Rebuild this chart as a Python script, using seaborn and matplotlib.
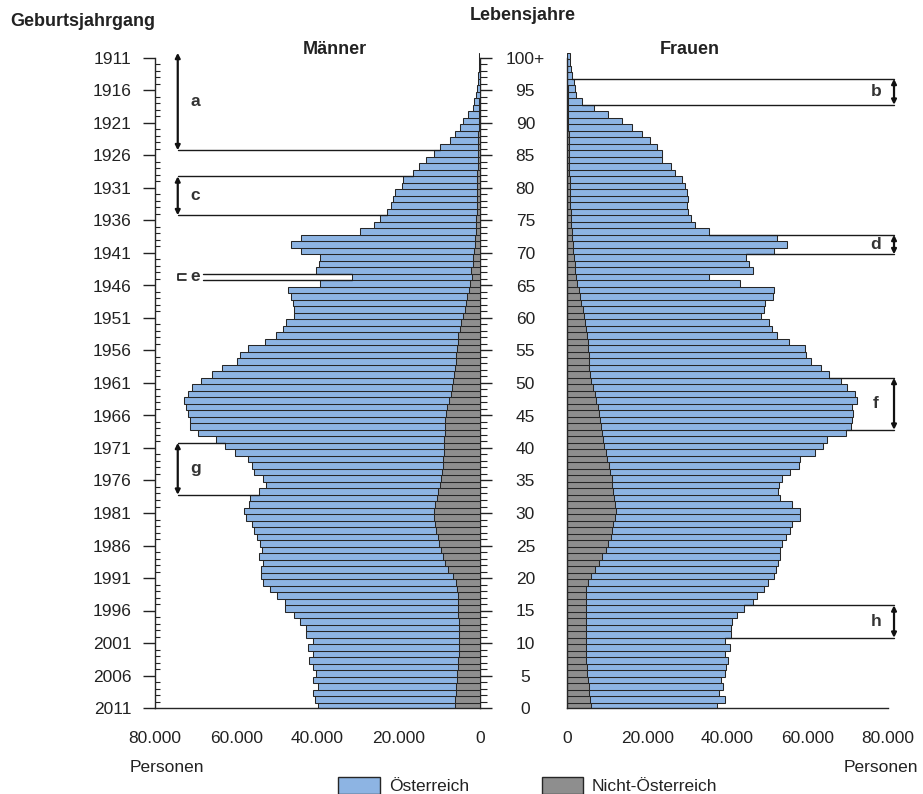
import matplotlib
matplotlib.use("Agg")
import matplotlib.pyplot as plt
import seaborn as sns
import numpy as np
import pandas as pd
from matplotlib.patches import Patch

# Bevoelkerung 2011 nach Alter (0..100+), Werte in 1000 Personen
alter = list(range(101))

maenner_gesamt = [
    39.9, 40.7, 41.0, 39.9, 41.2, 40.3, 41.0, 42.0, 41.2, 42.4,
    41.2, 42.8, 42.8, 44.4, 45.9, 47.9, 48.1, 50.0, 51.6, 53.5,
    54.0, 54.0, 53.5, 54.5, 53.7, 54.2, 55.0, 55.6, 56.0, 57.6,
    58.0, 56.8, 56.6, 54.3, 52.8, 53.5, 55.6, 56.1, 57.0, 60.2,
    62.7, 64.9, 69.3, 71.4, 71.4, 71.8, 72.4, 72.8, 72.0, 70.8,
    68.7, 66.0, 63.4, 59.9, 59.1, 57.1, 53.0, 50.2, 48.4, 47.7,
    45.7, 45.9, 46.1, 46.5, 47.3, 39.5, 31.4, 40.3, 39.7, 39.5,
    44.0, 46.5, 44.0, 29.6, 26.2, 24.7, 22.9, 21.8, 21.4, 21.0,
    19.3, 18.9, 16.5, 15.0, 13.2, 11.3, 9.9, 7.4, 6.2, 4.9,
    4.1, 2.9, 1.8, 1.5, 1.0, 0.8, 0.6, 0.4, 0.3, 0.2,
    0.2,
]
maenner_nicht_at = [
    6.2, 6.1, 5.9, 5.8, 5.7, 5.6, 5.4, 5.3, 5.2, 5.1,
    5.1, 5.1, 5.2, 5.2, 5.3, 5.3, 5.4, 5.5, 5.6, 5.8,
    6.7, 7.8, 8.5, 9.2, 9.7, 10.0, 10.3, 10.8, 11.1, 11.3,
    11.4, 11.1, 10.7, 10.3, 9.9, 9.5, 9.3, 9.1, 9.0, 8.9,
    8.9, 8.8, 8.7, 8.6, 8.5, 8.4, 8.0, 7.6, 7.2, 6.9,
    6.7, 6.4, 6.2, 6.0, 5.8, 5.6, 5.5, 5.3, 5.0, 4.6,
    4.1, 3.8, 3.5, 3.2, 2.8, 2.5, 2.0, 2.1, 1.8, 1.6,
    1.4, 1.3, 1.2, 1.0, 1.0, 0.9, 0.8, 0.8, 0.8, 0.8,
    0.8, 0.7, 0.7, 0.6, 0.6, 0.5, 0.5, 0.4, 0.4, 0.3,
    0.3, 0.2, 0.2, 0.2, 0.1, 0.1, 0.1, 0.1, 0.1, 0.1,
    0.1,
]
frauen_gesamt = [
    37.5, 39.4, 37.9, 38.9, 38.3, 39.5, 39.7, 40.2, 39.4, 40.5,
    39.4, 40.8, 40.8, 41.0, 42.4, 44.1, 46.3, 47.4, 49.1, 50.2,
    51.6, 52.0, 52.7, 53.0, 53.0, 53.7, 54.5, 55.5, 56.0, 58.0,
    58.0, 56.0, 53.2, 52.7, 52.8, 53.5, 55.7, 57.8, 58.0, 61.7,
    63.8, 64.9, 69.6, 70.7, 71.1, 71.3, 71.1, 72.3, 71.9, 69.8,
    68.4, 65.3, 63.4, 60.9, 59.6, 59.3, 55.3, 52.4, 51.0, 50.3,
    48.3, 49.0, 49.3, 51.3, 51.6, 43.0, 35.5, 46.3, 45.3, 44.5,
    51.6, 54.9, 52.4, 35.5, 31.9, 30.8, 30.2, 30.0, 30.1, 30.0,
    29.4, 28.7, 27.0, 25.8, 23.8, 23.6, 22.5, 20.6, 18.6, 16.1,
    13.6, 10.3, 6.7, 3.8, 2.3, 2.0, 1.8, 1.3, 1.0, 0.8,
    0.7,
]
frauen_nicht_at = [
    5.9, 5.7, 5.6, 5.4, 5.2, 5.1, 4.9, 4.8, 4.7, 4.7,
    4.7, 4.7, 4.7, 4.7, 4.7, 4.7, 4.7, 4.7, 4.7, 5.2,
    5.9, 7.0, 8.0, 8.8, 9.6, 10.2, 10.9, 11.2, 11.5, 11.9,
    12.1, 12.0, 11.7, 11.4, 11.2, 11.1, 10.8, 10.5, 10.0, 9.6,
    9.2, 9.0, 8.8, 8.5, 8.3, 8.0, 7.7, 7.3, 7.0, 6.5,
    5.9, 5.7, 5.6, 5.5, 5.4, 5.3, 5.2, 5.0, 4.8, 4.5,
    4.2, 3.9, 3.6, 3.2, 2.9, 2.6, 2.3, 2.1, 1.9, 1.7,
    1.5, 1.4, 1.3, 1.2, 1.0, 0.9, 0.9, 0.8, 0.8, 0.8,
    0.7, 0.7, 0.6, 0.6, 0.5, 0.5, 0.5, 0.4, 0.4, 0.3,
    0.3, 0.3, 0.2, 0.2, 0.2, 0.2, 0.1, 0.1, 0.1, 0.1,
    0.1,
]

alter_labels = ["0", "5", "10", "15", "20", "25", "30", "35", "40", "45", "50",
                "55", "60", "65", "70", "75", "80", "85", "90", "95", "100+"]
geburtsjahre = ["2011", "2006", "2001", "1996", "1991", "1986", "1981", "1976",
                "1971", "1966", "1961", "1956", "1951", "1946", "1941", "1936",
                "1931", "1926", "1921", "1916", "1911"]
personen_ticks = [0, 20000, 40000, 60000, 80000]
personen_labels = ["0", "20.000", "40.000", "60.000", "80.000"]

# Markierte Jahrgaenge: (Buchstabe, Seite, juengstes Alter, aeltestes Alter)
markierungen = [
    ("a", "m", 86, 100),
    ("c", "m", 76, 81),
    ("g", "m", 33, 40),
    ("b", "w", 93, 96),
    ("d", "w", 70, 72),
    ("f", "w", 43, 50),
    ("h", "w", 11, 15),
]

BLUE = "#8DB4E3"
GRAY = "#8E8E8E"
EDGE = "#262626"
TXT = "#222222"

sns.set_style("white")
plt.rcParams["font.family"] = ["Liberation Sans", "DejaVu Sans"]
plt.rcParams["text.color"] = TXT
plt.rcParams["xtick.color"] = TXT
plt.rcParams["ytick.color"] = TXT

df_m = pd.DataFrame({"alter": alter,
                     "gesamt": np.array(maenner_gesamt) * 1000,
                     "nicht": np.array(maenner_nicht_at) * 1000})
df_w = pd.DataFrame({"alter": alter,
                     "gesamt": np.array(frauen_gesamt) * 1000,
                     "nicht": np.array(frauen_nicht_at) * 1000})

W, H = 923, 794
fig = plt.figure(figsize=(W / 100, H / 100), dpi=100)
bottom = 86 / H
height = 6.5 * 100.8 / H
ax_m = fig.add_axes([155 / W, bottom, 325 / W, height])
ax_w = fig.add_axes([567 / W, bottom, 321 / W, height])

for ax, df in ((ax_m, df_m), (ax_w, df_w)):
    sns.barplot(data=df, x="gesamt", y="alter", orient="y", native_scale=True,
                width=1, color=BLUE, saturation=1, edgecolor=EDGE,
                linewidth=0.75, errorbar=None, ax=ax)
    sns.barplot(data=df, x="nicht", y="alter", orient="y", native_scale=True,
                width=1, color=GRAY, saturation=1, edgecolor=EDGE,
                linewidth=0.75, errorbar=None, ax=ax)
    ax.set_ylim(-0.3, 100.5)
    ax.set_xlabel("")
    ax.set_ylabel("")
    ax.spines["top"].set_visible(False)
    for s in ax.spines.values():
        s.set_linewidth(1.0)
        s.set_color(EDGE)
    ax.set_xticks(personen_ticks, labels=personen_labels)
    ax.set_xticks(np.arange(0, 80001, 4000), minor=True)
    ax.tick_params(axis="x", which="major", length=9.5, width=1, pad=7, labelsize=12.5)
    ax.tick_params(axis="x", which="minor", length=5, width=0.8)

ypos_major = np.arange(0, 101, 5) - 0.3
ypos_minor = np.arange(0, 101) - 0.3

# Maenner: Geburtsjahrgang links, Alter-Skala rechts
ax_m.set_xlim(80000, 0)
ax_m.spines["right"].set_visible(False)
ax_m.spines["left"].set_bounds(-0.3, 99.7)
ax_m.set_yticks(ypos_major, labels=geburtsjahre)
ax_m.set_yticks(ypos_minor, minor=True)
ax_m.tick_params(axis="y", which="major", left=True, right=False, direction="out",
                 length=9, width=1, pad=8, labelsize=12.5)
ax_m.tick_params(axis="y", which="minor", left=True, right=False, direction="in",
                 length=3.5, width=0.8)

sec = ax_m.secondary_yaxis("right")
sec.set_yticks(ypos_major)
sec.set_yticks(ypos_minor, minor=True)
sec.tick_params(which="major", direction="out", length=8.5, width=1, labelright=False)
sec.tick_params(which="minor", direction="out", length=5, width=0.8)
sec.spines["right"].set_bounds(-0.3, 99.7)
sec.spines["right"].set_linewidth(1.0)
sec.spines["right"].set_color(EDGE)

# Frauen: Lebensjahre in der Mitte
ax_w.set_xlim(0, 80000)
ax_w.spines["right"].set_visible(False)
ax_w.spines["left"].set_bounds(-0.3, 99.7)
ax_w.set_yticks(ypos_major, labels=alter_labels)
ax_w.set_yticks(ypos_minor, minor=True)
ax_w.tick_params(axis="y", which="major", direction="out", length=10, width=1,
                 pad=20, labelsize=12.5)
ax_w.tick_params(axis="y", which="minor", direction="out", length=5, width=0.8)
for lab in ax_w.get_yticklabels():
    lab.set_horizontalalignment("center")


def line_end(values, k):
    # Grenze zwischen Alter k und k+1 endet am kuerzeren Balken
    lo = values[k] if 0 <= k <= 100 else 0
    hi = values[k + 1] if 0 <= k + 1 <= 100 else 0
    return min(lo, hi) * 1000


arrow_kw = dict(arrowstyle="<|-|>", lw=1.6, color="#111111", shrinkA=0, shrinkB=0,
                mutation_scale=7)

for buchst, seite, lo, hi in markierungen:
    if seite == "m":
        ax, werte, xv, xt = ax_m, maenner_gesamt, 74400, 70000
    else:
        ax, werte, xv, xt = ax_w, frauen_gesamt, 81500, 77000
    grenzen = [lo - 0.5, hi + 0.5] if hi < 100 else [lo - 0.5]
    for yb in grenzen:
        k = int(np.floor(yb))
        ax.plot([xv, line_end(werte, k)], [yb, yb], color="#1a1a1a", lw=1.0,
                clip_on=False, zorder=6)
    ax.annotate("", xy=(xv, hi + 0.5), xytext=(xv, lo - 0.5), arrowprops=arrow_kw,
                annotation_clip=False, zorder=7)
    ax.text(xt, (lo + hi) / 2, buchst, ha="center", va="center", fontsize=12.5,
            fontweight="bold", color="#333333", clip_on=False, zorder=7)

# e: Jahrgang 1945 (Alter 66)
for yb in (65.5, 66.5):
    ax_m.plot([68200, line_end(maenner_gesamt, int(np.floor(yb)))], [yb, yb],
              color="#1a1a1a", lw=1.0, zorder=6)
ax_m.plot([72400, 74400, 74400, 72400], [66.5, 66.5, 65.5, 65.5], color="#1a1a1a",
          lw=1.2, zorder=6)
ax_m.text(70200, 66.1, "e", ha="center", va="center", fontsize=12.5,
          fontweight="bold", color="#333333", zorder=7)

# Beschriftungen
fig.text(10 / W, 1 - 22 / H, "Geburtsjahrgang", ha="left", va="center",
         fontsize=13, fontweight="bold")
fig.text(523 / W, 1 - 15 / H, "Lebensjahre", ha="center", va="center",
         fontsize=13, fontweight="bold")
fig.text(335 / W, 1 - 50 / H, "Männer", ha="center", va="center",
         fontsize=13, fontweight="bold")
fig.text(690 / W, 1 - 50 / H, "Frauen", ha="center", va="center",
         fontsize=13, fontweight="bold")
fig.text(130 / W, 1 - 768 / H, "Personen", ha="left", va="center", fontsize=12.5)
fig.text(918 / W, 1 - 768 / H, "Personen", ha="right", va="center", fontsize=12.5)

handles = [Patch(facecolor=BLUE, edgecolor=EDGE, label="Österreich"),
           Patch(facecolor=GRAY, edgecolor=EDGE, label="Nicht-Österreich")]
fig.legend(handles=handles, loc="lower center", bbox_to_anchor=(528 / W, -0.02),
           ncol=2, frameon=False, fontsize=12.5, handlelength=2.4,
           handleheight=1.1, handletextpad=0.5, columnspacing=4.2)

fig.savefig("out.png", dpi=100)
